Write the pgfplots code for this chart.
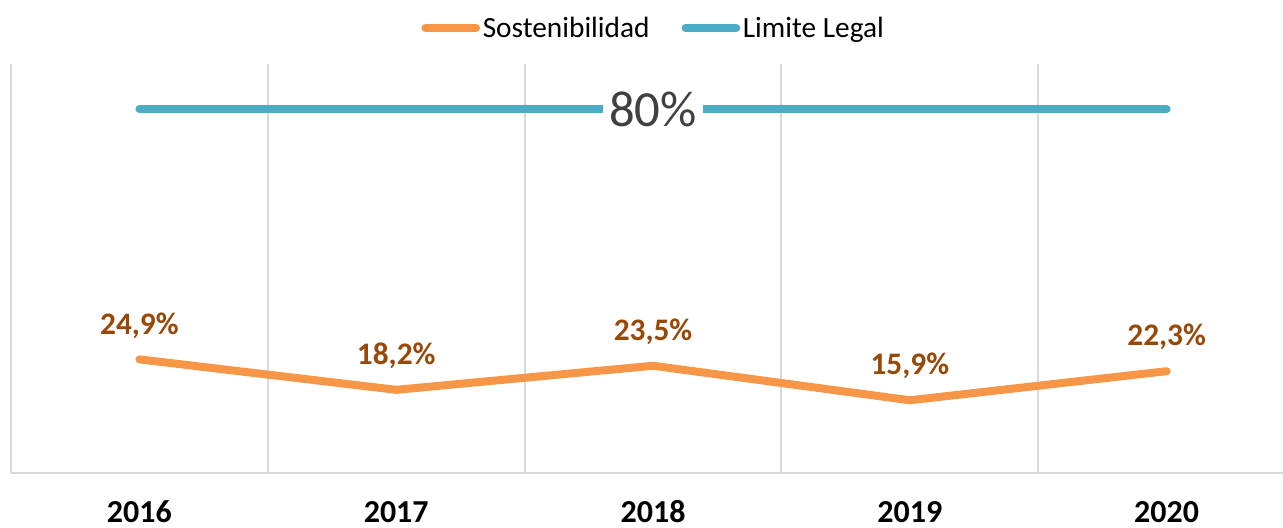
\documentclass[border=0pt]{standalone}
\usepackage{pgfplots}
\pgfplotsset{compat=1.18}
\usepackage{fontspec}
\setmainfont{Carlito}
\definecolor{sost}{HTML}{F79646}
\definecolor{lim}{HTML}{4BACC6}
\definecolor{lab}{HTML}{984807}
\definecolor{gridc}{HTML}{D9D9D9}
\definecolor{txtc}{HTML}{404040}
\begin{document}
\begin{tikzpicture}
\path[use as bounding box] (-8.25pt,-41.6pt) rectangle (954pt,354.4pt);
\begin{axis}[
  scale only axis, width=954pt, height=306.75pt,
  xmin=-0.5, xmax=4.453, ymin=0, ymax=90,
  axis x line=bottom, axis y line=left,
  axis line style={gridc, line width=1.5pt, -},
  xtick={0,1,2,3,4}, xticklabels={2016,2017,2018,2019,2020},
  ytick=\empty, major tick length=0pt, minor tick length=0pt,
  minor xtick={0.5,1.5,2.5,3.5}, xminorgrids,
  minor grid style={gridc, line width=1.5pt},
  xticklabel style={font=\bfseries\fontsize{24}{28}\selectfont, anchor=base, yshift=-37.3pt},
  /pgf/number format/assume math mode=true,
  legend style={at={(0.5055,1)}, anchor=center, yshift=26.6pt, draw=none, fill=none,
    legend columns=2, font=\fontsize{22}{26}\selectfont,
    /tikz/every even column/.append style={column sep=22pt}},
  legend image code/.code={\draw[#1, line width=6pt, line cap=round] (0pt,0) -- (38pt,0);},
  clip=false,
]
\addplot[sost, line width=6pt, line cap=round, line join=round,
  point meta=y,
  nodes near coords={\pgfmathprintnumber[use comma, fixed, fixed zerofill, precision=1, assume math mode=true]{\pgfplotspointmeta}\%},
  nodes near coords style={font=\bfseries\fontsize{23.5}{28}\selectfont, text=lab, anchor=base, yshift=19pt}]
  coordinates {(0,24.9) (1,18.2) (2,23.5) (3,15.9) (4,22.3)};
\addlegendentry{Sostenibilidad}
\addplot[lim, line width=6pt, line cap=round]
  coordinates {(0,80) (1,80) (2,80) (3,80) (4,80)};
\addlegendentry{Limite Legal}
\node[fill=white, text=txtc, font=\fontsize{38}{44}\selectfont, inner xsep=5pt, inner ysep=2pt] at (axis cs:2,80) {80\%};
\end{axis}
\end{tikzpicture}
\end{document}
